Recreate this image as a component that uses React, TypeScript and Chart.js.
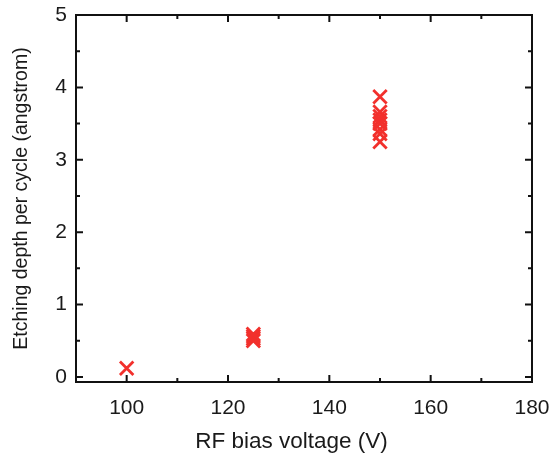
import React, { useEffect, useRef } from "react";
import { Chart, registerables } from "chart.js";

Chart.register(...registerables);

const voltages100 = [100];
const depths100 = [0.12];
const voltages125 = [125, 125, 125, 125];
const depths125 = [0.5, 0.53, 0.56, 0.59];
const voltages150 = [150, 150, 150, 150, 150, 150, 150, 150];
const depths150 = [3.87, 3.66, 3.6, 3.55, 3.5, 3.42, 3.36, 3.25];

const xMajorTicks = [100, 120, 140, 160, 180];
const xMinorTicks = [110, 130, 150, 170];
const yMajorTicks = [0, 1, 2, 3, 4, 5];
const yMinorTicks = [0.5, 1.5, 2.5, 3.5, 4.5];

const X_MIN = 90;
const X_MAX = 180;
const Y_MIN = -0.07;
const Y_MAX = 5;

const xTitle = "RF bias voltage (V)    ";
const yTitle = "Etching depth per cycle (angstrom)";

const MARK_COLOR = "#f2302c";
const FONT = "'Liberation Sans', Arial, Helvetica, sans-serif";

const framePlugin = {
  id: "frameTicks",
  beforeDatasetsDraw(chart: any) {
    const { ctx, chartArea, scales } = chart;
    const { left, right, top, bottom } = chartArea;
    const xs = scales.x;
    const ys = scales.y;
    ctx.save();
    ctx.strokeStyle = "#111";
    ctx.lineWidth = 2;
    ctx.lineCap = "butt";
    ctx.strokeRect(left, top, right - left, bottom - top);
    const drawX = (vals: number[], len: number) => {
      vals.forEach((v) => {
        const px = xs.getPixelForValue(v);
        ctx.beginPath();
        ctx.moveTo(px, bottom);
        ctx.lineTo(px, bottom - len);
        ctx.moveTo(px, top);
        ctx.lineTo(px, top + len);
        ctx.stroke();
      });
    };
    const drawY = (vals: number[], len: number) => {
      vals.forEach((v) => {
        const py = ys.getPixelForValue(v);
        ctx.beginPath();
        ctx.moveTo(left, py);
        ctx.lineTo(left + len, py);
        ctx.moveTo(right, py);
        ctx.lineTo(right - len, py);
        ctx.stroke();
      });
    };
    drawX(xMajorTicks, 7);
    drawX(xMinorTicks, 4);
    drawY(yMajorTicks, 7);
    drawY(yMinorTicks, 4);
    ctx.restore();
  },
};

function toPoints(xs: number[], ys: number[]) {
  return xs.map((x, i) => ({ x, y: ys[i] }));
}

export default function App() {
  const canvasRef = useRef<HTMLCanvasElement | null>(null);

  useEffect(() => {
    document.body.style.margin = "0";
    const canvas = canvasRef.current;
    if (!canvas) return;
    const ds = (data: { x: number; y: number }[]) => ({
      data,
      showLine: false,
      pointStyle: "crossRot" as const,
      pointRadius: 9.5,
      pointHoverRadius: 9.5,
      pointBorderWidth: 2.8,
      borderColor: MARK_COLOR,
      backgroundColor: MARK_COLOR,
    });
    const chart = new Chart(canvas, {
      type: "scatter",
      data: {
        datasets: [
          ds(toPoints(voltages100, depths100)),
          ds(toPoints(voltages125, depths125)),
          ds(toPoints(voltages150, depths150)),
        ],
      },
      options: {
        animation: false,
        responsive: false,
        events: [],
        layout: { padding: { top: 15, right: 18, left: 0, bottom: 0 } },
        plugins: { legend: { display: false }, tooltip: { enabled: false } },
        scales: {
          x: {
            type: "linear",
            min: X_MIN,
            max: X_MAX,
            grid: { display: false, drawTicks: false },
            border: { display: false },
            afterBuildTicks: (scale: any) => {
              scale.ticks = xMajorTicks.map((v) => ({ value: v }));
            },
            afterFit: (scale: any) => {
              scale.height = 73;
              scale.paddingLeft = 0;
              scale.paddingRight = 0;
            },
            ticks: {
              padding: 14,
              color: "#1a1a1a",
              font: { family: FONT, size: 21 },
              maxRotation: 0,
            },
            title: {
              display: true,
              text: xTitle,
              color: "#1a1a1a",
              font: { family: FONT, size: 22.5, lineHeight: 1.2 },
              padding: { top: 0, bottom: 0 },
            },
          },
          y: {
            type: "linear",
            min: Y_MIN,
            max: Y_MAX,
            grid: { display: false, drawTicks: false },
            border: { display: false },
            afterBuildTicks: (scale: any) => {
              scale.ticks = yMajorTicks.map((v) => ({ value: v }));
            },
            afterFit: (scale: any) => {
              scale.width = 76;
              scale.paddingTop = 0;
              scale.paddingBottom = 0;
            },
            ticks: {
              padding: 9,
              color: "#1a1a1a",
              font: { family: FONT, size: 21 },
            },
            title: {
              display: true,
              text: yTitle,
              color: "#1a1a1a",
              font: { family: FONT, size: 19.5, lineHeight: 1.2 },
              padding: { top: 10, bottom: 0 },
            },
          },
        },
      },
      plugins: [framePlugin],
    });
    return () => chart.destroy();
  }, []);

  return (
    <div style={{ position: "absolute", left: 0, top: 0, width: 550, height: 455, background: "#fff" }}>
      <canvas ref={canvasRef} width={550} height={455} style={{ display: "block" }} />
    </div>
  );
}
